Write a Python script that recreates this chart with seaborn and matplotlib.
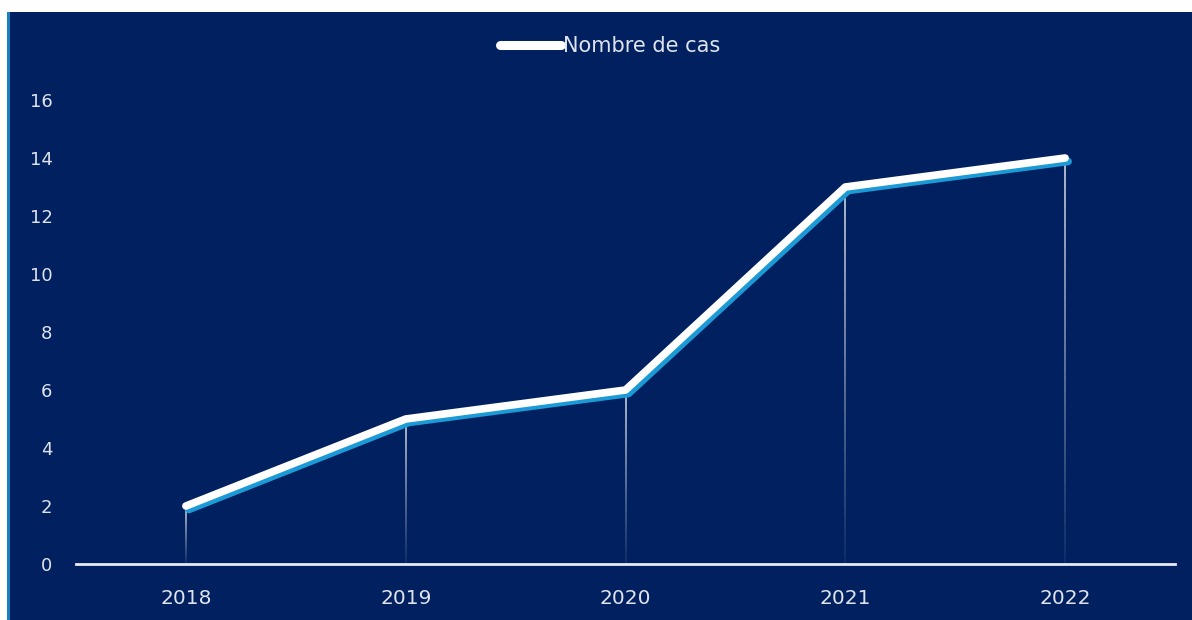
import matplotlib
matplotlib.use("Agg")
import matplotlib.pyplot as plt
import matplotlib.transforms as mtransforms
from matplotlib.patches import Rectangle
from matplotlib.lines import Line2D
import numpy as np
import pandas as pd
import seaborn as sns

# Data
years = ["2018", "2019", "2020", "2021", "2022"]
cases = [2, 5, 6, 13, 14]
y_ticks = [0, 2, 4, 6, 8, 10, 12, 14, 16]
series_label = "Nombre de cas"

NAVY = "#00205f"
CYAN = "#1c9ad6"
TEXT = "#dfe3ec"

sns.set_theme(style="white")
plt.rcParams["font.family"] = ["DejaVu Sans"]

fig = plt.figure(figsize=(11.92, 6.2), dpi=100)
fig.patch.set_facecolor("white")

# Navy panel with a thin blue edge on the left
fig.patches.append(Rectangle((9 / 1192, 0), 1 - 9 / 1192, 1 - 12 / 620,
                             transform=fig.transFigure, facecolor=NAVY,
                             edgecolor="none", zorder=-2))
fig.patches.append(Rectangle((7 / 1192, 0), 2.5 / 1192, 1 - 12 / 620,
                             transform=fig.transFigure, facecolor="#1a7fc0",
                             edgecolor="none", zorder=-2))

ax = fig.add_axes([76 / 1192, 1 - 564 / 620, (1175 - 76) / 1192, (564 - 100) / 620])
ax.set_facecolor("none")

df = pd.DataFrame({"year": years, "cases": cases})
x = np.arange(len(years))

# Fading drop lines from each point down to the axis
n_seg = 40
for xi, v in zip(x, cases):
    edges = np.linspace(0, v, n_seg + 1)
    for k in range(n_seg):
        frac = (k + 0.5) / n_seg
        ax.plot([xi, xi], [edges[k], edges[k + 1]], color="white",
                lw=1.4, alpha=0.05 + 0.65 * frac, solid_capstyle="butt", zorder=2)

# Blue shadow under the main line
shadow = mtransforms.offset_copy(ax.transData, fig=fig, x=3, y=-3.5, units="dots")
ax.plot(x, cases, color=CYAN, lw=5.5, transform=shadow, solid_capstyle="round",
        solid_joinstyle="round", zorder=3, clip_on=False)

sns.lineplot(data=df, x="year", y="cases", ax=ax, color="white", lw=5.5,
             sort=False, legend=False, zorder=4, clip_on=False,
             solid_capstyle="round", solid_joinstyle="round")

ax.set_xlim(-0.5, len(years) - 0.5)
ax.set_ylim(0, 16)
ax.set_yticks(y_ticks)
ax.set_xticks(x)
ax.set_xticklabels(years)
ax.set_xlabel("")
ax.set_ylabel("")

for side in ["top", "right", "left"]:
    ax.spines[side].set_visible(False)
ax.spines["bottom"].set_color("#e8ebf2")
ax.spines["bottom"].set_linewidth(2)

ax.tick_params(axis="y", length=0, pad=17, labelsize=13, labelcolor=TEXT)
ax.tick_params(axis="x", length=0, pad=18, labelsize=14.5, labelcolor=TEXT)

handle = Line2D([], [], color="white", lw=6.5, solid_capstyle="round")
leg = fig.legend([handle], [series_label], loc="center", bbox_to_anchor=(610 / 1192, 1 - 46 / 620),
                 frameon=False, handlelength=2.9, handletextpad=0.1, fontsize=15)
for t in leg.get_texts():
    t.set_color(TEXT)

fig.savefig("out.png", dpi=100, facecolor=fig.get_facecolor())
